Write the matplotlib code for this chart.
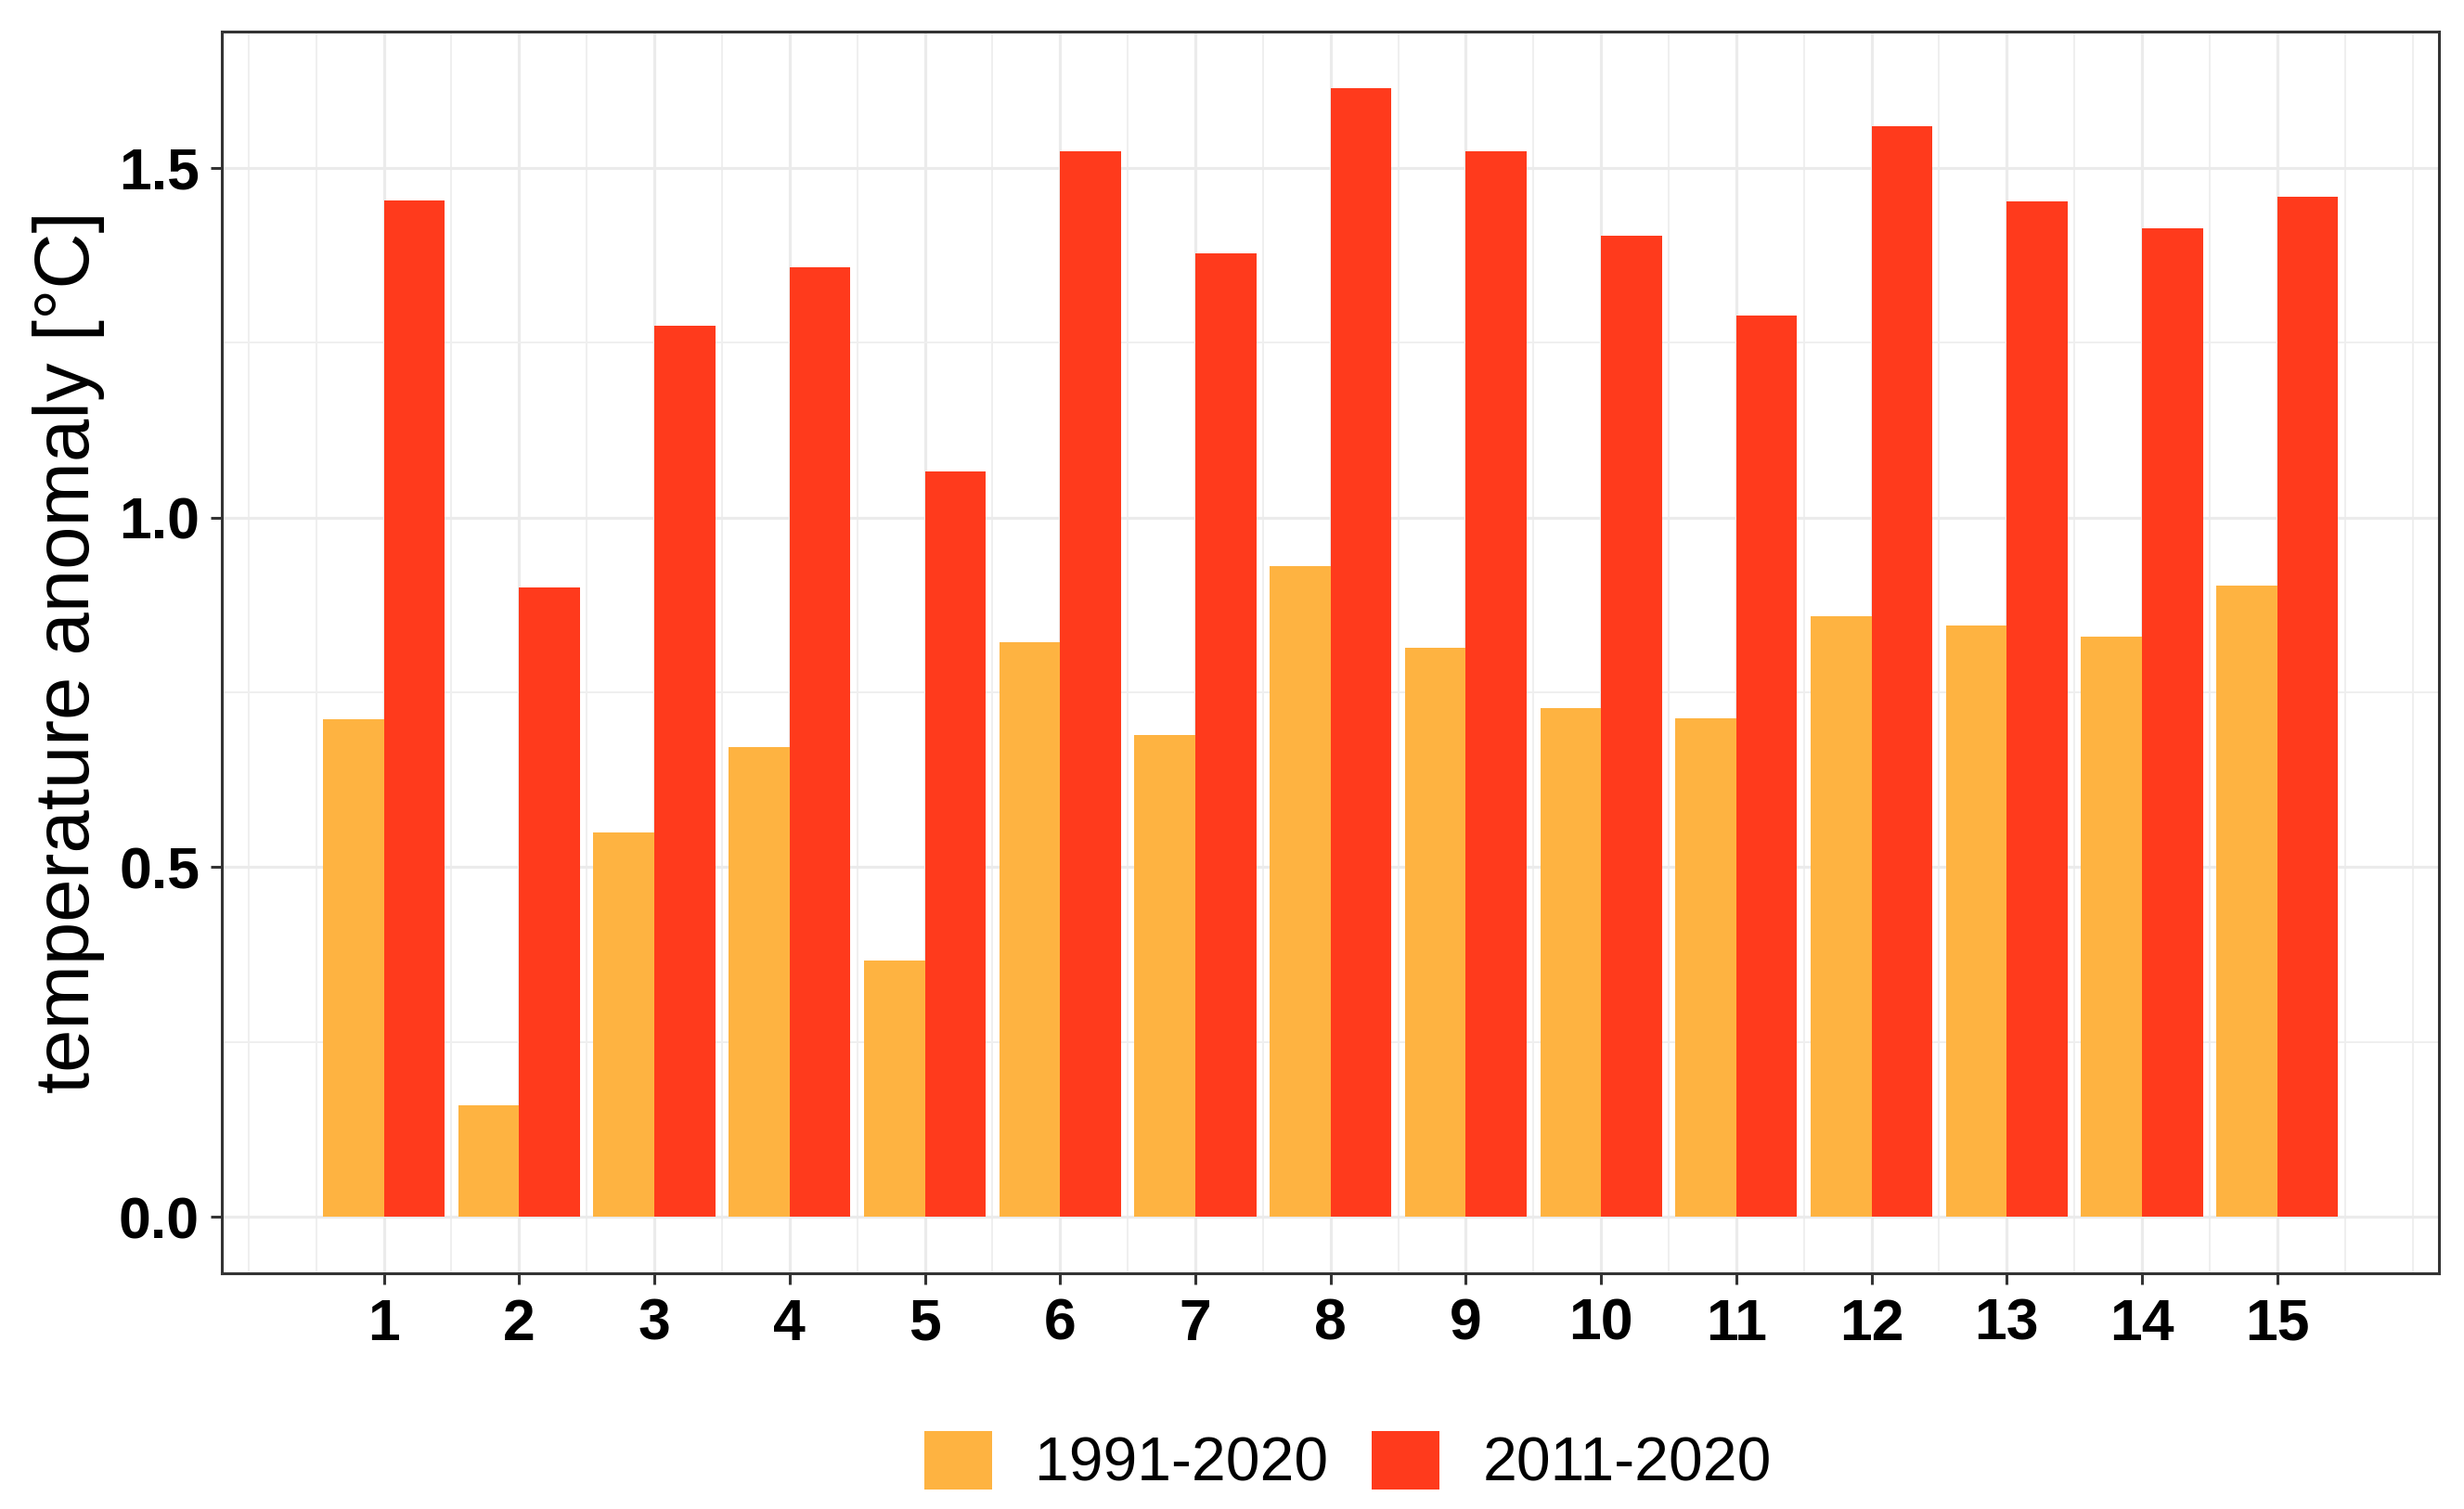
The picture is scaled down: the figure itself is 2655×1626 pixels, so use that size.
import matplotlib.pyplot as plt
from matplotlib.patches import Patch
from matplotlib.ticker import MultipleLocator


# values
regions = list(range(1, 16))
anom_1991_2020 = [0.711, 0.160, 0.549, 0.672, 0.367, 0.822, 0.689, 0.930,
                  0.813, 0.728, 0.713, 0.859, 0.845, 0.829, 0.903]
anom_2011_2020 = [1.453, 0.900, 1.274, 1.358, 1.066, 1.523, 1.378, 1.614,
                  1.524, 1.403, 1.289, 1.559, 1.452, 1.413, 1.459]
series_names = ['1991-2020', '2011-2020']
series_colors = ['#FEB341', '#FF3A1C']
y_ticks = [0.0, 0.5, 1.0, 1.5]
y_label = 'temperature anomaly [°C]'


def main():
  plt.rcParams['font.family'] = ['Liberation Sans', 'DejaVu Sans']

  fig = plt.figure(figsize=(26.55, 16.26), dpi=100)
  ax = fig.add_axes([0.0902, 0.1562, 0.8996, 0.8229])

  width = 0.45
  x_old = [r - width / 2 for r in regions]
  x_new = [r + width / 2 for r in regions]
  ax.bar(x_old, anom_1991_2020, width=width, color=series_colors[0],
         linewidth=0, zorder=3)
  ax.bar(x_new, anom_2011_2020, width=width, color=series_colors[1],
         linewidth=0, zorder=3)

  # ggplot-like limits (5% expansion)
  lo_x = regions[0] - 0.45
  hi_x = regions[-1] + 0.45
  pad_x = 0.05 * (hi_x - lo_x)
  ax.set_xlim(lo_x - pad_x, hi_x + pad_x)
  top = max(anom_2011_2020)
  ax.set_ylim(-0.05 * top, 1.05 * top)

  ax.set_xticks(regions)
  ax.set_xticklabels([str(r) for r in regions])
  ax.set_yticks(y_ticks)
  ax.set_yticklabels(['{:.1f}'.format(v) for v in y_ticks])
  ax.xaxis.set_minor_locator(MultipleLocator(0.5))
  ax.yaxis.set_minor_locator(MultipleLocator(0.25))

  ax.grid(which='major', color='#EBEBEB', linewidth=2.3, zorder=0)
  ax.grid(which='minor', color='#EFEFEF', linewidth=1.4, zorder=0)
  ax.set_axisbelow(True)

  for sp in ax.spines.values():
    sp.set_color('#333333')
    sp.set_linewidth(2.2)

  ax.tick_params(which='major', length=8.6, width=2.2, color='#333333',
                 labelsize=45, pad=9)
  ax.tick_params(which='minor', length=0)
  for lab in ax.get_xticklabels() + ax.get_yticklabels():
    lab.set_fontweight('bold')
    lab.set_color('black')
  ax.tick_params(axis='x', pad=10)

  ax.set_ylabel(y_label, fontsize=60, color='black')
  ax.yaxis.set_label_coords(-0.053, 0.5)

  handles = [Patch(facecolor=c, edgecolor='none', label=n)
             for c, n in zip(series_colors, series_names)]
  fig.legend(handles=handles, loc='center', bbox_to_anchor=(0.547, 0.031),
             ncol=2, frameon=False, fontsize=47.5, handlelength=1.1,
             handleheight=1.1, handletextpad=0.7, columnspacing=0.72)

  fig.savefig('out.png', dpi=100)


if __name__ == '__main__':
  main()
